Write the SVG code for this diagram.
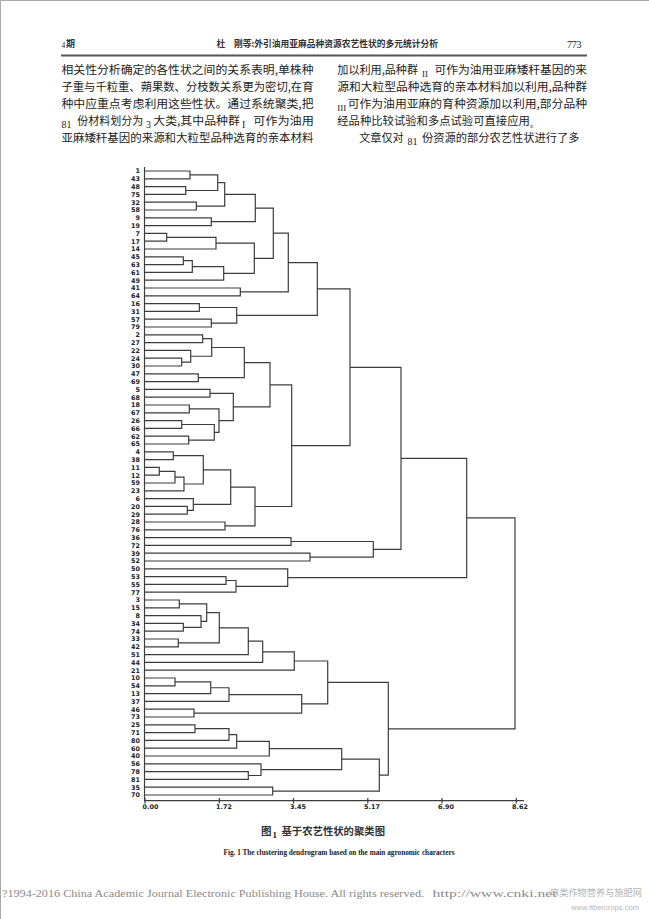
<svg xmlns="http://www.w3.org/2000/svg" width="649" height="919" viewBox="0 0 649 919">
<style>
.cn{font-family:"Noto Sans CJK SC","Noto Sans",sans-serif;font-size:11.4px;fill:#222}
.num{font-family:"Liberation Serif",serif;font-size:11px;fill:#222}
.sub{font-family:"Liberation Serif",serif;font-size:10px;fill:#222}
.hd{font-family:"Noto Sans CJK SC",sans-serif;font-size:9px;font-weight:bold;fill:#333}
.lb{font-family:"DejaVu Sans",sans-serif;font-size:6.4px;font-weight:bold;fill:#222;text-anchor:end}
.ax{font-family:"DejaVu Sans",sans-serif;font-size:6.4px;font-weight:bold;fill:#222;text-anchor:middle}
.ln{fill:none;stroke:#3c3c3c;stroke-width:1.2}
.ft{font-family:"Liberation Serif",serif;font-size:11px;fill:#8a8a8a}
</style>
<rect width="649" height="919" fill="#fff"/>
<path d="M0.5 919V0.5H649" fill="none" stroke="#aaa" stroke-width="1"/>
<g id="header">
<text x="61.5" y="48" class="num" style="font-size:7.5px">4</text>
<text x="66" y="46.5" class="hd">期</text>
<text x="216.5" y="46.5" class="hd" textLength="221.5" lengthAdjust="spacingAndGlyphs">杜　刚等:外引油用亚麻品种资源农艺性状的多元统计分析</text>
<text x="567" y="47.5" class="num" style="font-size:10px" textLength="14.5">773</text>
<line x1="61" y1="55.5" x2="587" y2="55.5" stroke="#555" stroke-width="2"/>
</g>
<g id="body-left">
<text x="61.5" y="74" class="cn" textLength="252" lengthAdjust="spacingAndGlyphs">相关性分析确定的各性状之间的关系表明,单株种</text>
<text x="61.5" y="91" class="cn" textLength="252" lengthAdjust="spacingAndGlyphs">子重与千粒重、蒴果数、分枝数关系更为密切,在育</text>
<text x="61.5" y="108" class="cn" textLength="252" lengthAdjust="spacingAndGlyphs">种中应重点考虑利用这些性状。通过系统聚类,把</text>
<text x="61.5" y="127.5" class="sub">81</text>
<text x="77.3" y="125" class="cn" textLength="66" lengthAdjust="spacingAndGlyphs">份材料划分为</text>
<text x="146" y="127.5" class="sub">3</text>
<text x="153.3" y="125" class="cn" textLength="86.5" lengthAdjust="spacingAndGlyphs">大类,其中品种群</text>
<text x="242" y="127.5" class="sub">I</text>
<text x="253.3" y="125" class="cn" textLength="60.5" lengthAdjust="spacingAndGlyphs">可作为油用</text>
<text x="61.5" y="141.5" class="cn" textLength="252" lengthAdjust="spacingAndGlyphs">亚麻矮秆基因的来源和大粒型品种选育的亲本材料</text>
</g>
<g id="body-right">
<text x="337.3" y="74" class="cn" textLength="80.7" lengthAdjust="spacingAndGlyphs">加以利用,品种群</text>
<text x="422" y="77" class="num" style="font-size:9px">II</text>
<text x="434.6" y="74" class="cn" textLength="152.4" lengthAdjust="spacingAndGlyphs">可作为油用亚麻矮秆基因的来</text>
<text x="337.3" y="91" class="cn" textLength="249.7" lengthAdjust="spacingAndGlyphs">源和大粒型品种选育的亲本材料加以利用,品种群</text>
<text x="337.3" y="111" class="num" style="font-size:9px">III</text>
<text x="347.7" y="108" class="cn" textLength="239.3" lengthAdjust="spacingAndGlyphs">可作为油用亚麻的育种资源加以利用,部分品种</text>
<text x="337.3" y="125" class="cn" textLength="192.5" lengthAdjust="spacingAndGlyphs">经品种比较试验和多点试验可直接应用</text>
<text x="530" y="127" class="cn" style="font-size:8px">。</text>
<text x="359.3" y="141.5" class="cn" textLength="44.3" lengthAdjust="spacingAndGlyphs">文章仅对</text>
<text x="407.5" y="144.5" class="sub">81</text>
<text x="422" y="141.5" class="cn" textLength="157.5" lengthAdjust="spacingAndGlyphs">份资源的部分农艺性状进行了多</text>
</g>
<g id="connectors" class="ln">
<path d="M144.5 167V800.7M144 800.7H524M145 798V803.5M219.3 798V803.5M293.5 798V803.5M367.8 798V803.5M442 798V803.5M516.3 798V803.5"/>
<path d="M145 171H190V178.8H145M145 186.6H185.7V194.4H145M190 174.9H217.7V190.5H185.7M145 202.2H196.3V210H145M217.7 182.7H224.7V206.1H196.3M145 217.8H211.3V225.6H145M224.7 194.4H255.3V221.7H211.3M145 233.4H166.7V241.2H145M166.7 237.3H216V249H145M145 256.8H183.3V264.6H145M183.3 260.7H192.3V272.4H145M192.3 266.55H223.7V280.2H145M216 243.15H254.3V273.4H223.7M255.3 208.05H273.3V258.3H254.3M145 288H240.3V295.8H145M273.3 233.2H288.3V291.9H240.3M145 303.6H199.3V311.4H145M145 319.2H211.3V327H145M199.3 307.5H236.7V323.1H211.3M288.3 262.55H317.3V315.3H236.7"/>
<path d="M145 334.8H202.7V342.6H145M145 358.2H181.7V366H145M145 350.4H190.7V362.1H181.7M202.7 338.7H211.7V356.25H190.7M145 373.8H198.3V381.6H145M211.7 347.5H244.3V377.7H198.3M145 389.4H210V397.2H145M145 405H189.3V412.8H145M145 420.6H181.7V428.4H145M145 436.2H188.7V444H145M181.7 424.5H214.3V440.1H188.7M189.3 408.9H219V432.3H214.3M210 393.3H233.3V420.6H219M244.3 362.6H270V406.95H233.3M145 451.8H173.3V459.6H145M145 467.4H159.3V475.2H145M159.3 471.3H175V483H145M175 477.15H184V490.8H145M173.3 455.7H203.3V484H184M145 506.4H187.3V514.2H145M145 498.6H193.3V510.3H187.3M203.3 469.85H230.7V504.45H193.3M145 522H225V529.8H145M230.7 487.15H255V525.9H225M270 384.8H291.7V506.5H255"/>
<path d="M317.3 288.9H350V445.65H291.7M145 537.6H291V545.4H145M145 553.2H310V561H145M291 541.5H373.3V557.1H310M350 367.3H401V549.3H373.3M145 576.6H226V584.4H145M226 580.5H236V592.2H145M145 568.8H287.7V586.35H236M401 458.3H466.7V577.6H287.7"/>
<path d="M145 600H179.3V607.8H145M145 623.4H183.3V631.2H145M145 615.6H201V627.3H183.3M179.3 603.9H206.7V621.45H201M145 639H178.3V646.8H145M206.7 612.7H219.3V642.9H178.3M219.3 627.8H248.3V654.6H145M248.3 641.2H262.7V662.4H145M262.7 651.8H294.3V670.2H145M145 678H175V685.8H145M175 681.9H210.7V693.6H145M210.7 687.75H229V701.4H145M145 709.2H194V717H145M229 694.6H301.7V713.1H194M294.3 661H327.7V703.85H301.7M145 724.8H195V732.6H145M195 728.7H229V740.4H145M229 734.55H236.7V748.2H145M236.7 741.4H269.3V756H145M145 771.6H248.3V779.4H145M145 763.8H261V775.5H248.3M269.3 748.7H341.7V769.65H261M145 787.2H272.7V795H145M341.7 759.2H379.3V791.1H272.7M327.7 682.4H388.3V775.15H379.3M466.7 517.95H515V728.8H388.3"/>
</g>
<g id="leaves" class="lb">
<g id="leaf-1"><text x="140" y="173.3" class="lb">1</text></g>
<g id="leaf-43"><text x="140" y="181.1" class="lb">43</text></g>
<g id="leaf-48"><text x="140" y="188.9" class="lb">48</text></g>
<g id="leaf-75"><text x="140" y="196.7" class="lb">75</text></g>
<g id="leaf-32"><text x="140" y="204.5" class="lb">32</text></g>
<g id="leaf-58"><text x="140" y="212.3" class="lb">58</text></g>
<g id="leaf-9"><text x="140" y="220.1" class="lb">9</text></g>
<g id="leaf-19"><text x="140" y="227.9" class="lb">19</text></g>
<g id="leaf-7"><text x="140" y="235.7" class="lb">7</text></g>
<g id="leaf-17"><text x="140" y="243.5" class="lb">17</text></g>
<g id="leaf-14"><text x="140" y="251.3" class="lb">14</text></g>
<g id="leaf-45"><text x="140" y="259.1" class="lb">45</text></g>
<g id="leaf-63"><text x="140" y="266.9" class="lb">63</text></g>
<g id="leaf-61"><text x="140" y="274.7" class="lb">61</text></g>
<g id="leaf-49"><text x="140" y="282.5" class="lb">49</text></g>
<g id="leaf-41"><text x="140" y="290.3" class="lb">41</text></g>
<g id="leaf-64"><text x="140" y="298.1" class="lb">64</text></g>
<g id="leaf-16"><text x="140" y="305.9" class="lb">16</text></g>
<g id="leaf-31"><text x="140" y="313.7" class="lb">31</text></g>
<g id="leaf-57"><text x="140" y="321.5" class="lb">57</text></g>
<g id="leaf-79"><text x="140" y="329.3" class="lb">79</text></g>
<g id="leaf-2"><text x="140" y="337.1" class="lb">2</text></g>
<g id="leaf-27"><text x="140" y="344.9" class="lb">27</text></g>
<g id="leaf-22"><text x="140" y="352.7" class="lb">22</text></g>
<g id="leaf-24"><text x="140" y="360.5" class="lb">24</text></g>
<g id="leaf-30"><text x="140" y="368.3" class="lb">30</text></g>
<g id="leaf-47"><text x="140" y="376.1" class="lb">47</text></g>
<g id="leaf-69"><text x="140" y="383.9" class="lb">69</text></g>
<g id="leaf-5"><text x="140" y="391.7" class="lb">5</text></g>
<g id="leaf-68"><text x="140" y="399.5" class="lb">68</text></g>
<g id="leaf-18"><text x="140" y="407.3" class="lb">18</text></g>
<g id="leaf-67"><text x="140" y="415.1" class="lb">67</text></g>
<g id="leaf-26"><text x="140" y="422.9" class="lb">26</text></g>
<g id="leaf-66"><text x="140" y="430.7" class="lb">66</text></g>
<g id="leaf-62"><text x="140" y="438.5" class="lb">62</text></g>
<g id="leaf-65"><text x="140" y="446.3" class="lb">65</text></g>
<g id="leaf-4"><text x="140" y="454.1" class="lb">4</text></g>
<g id="leaf-38"><text x="140" y="461.9" class="lb">38</text></g>
<g id="leaf-11"><text x="140" y="469.7" class="lb">11</text></g>
<g id="leaf-12"><text x="140" y="477.5" class="lb">12</text></g>
<g id="leaf-59"><text x="140" y="485.3" class="lb">59</text></g>
<g id="leaf-23"><text x="140" y="493.1" class="lb">23</text></g>
<g id="leaf-6"><text x="140" y="500.9" class="lb">6</text></g>
<g id="leaf-20"><text x="140" y="508.7" class="lb">20</text></g>
<g id="leaf-29"><text x="140" y="516.5" class="lb">29</text></g>
<g id="leaf-28"><text x="140" y="524.3" class="lb">28</text></g>
<g id="leaf-76"><text x="140" y="532.1" class="lb">76</text></g>
<g id="leaf-36"><text x="140" y="539.9" class="lb">36</text></g>
<g id="leaf-72"><text x="140" y="547.7" class="lb">72</text></g>
<g id="leaf-39"><text x="140" y="555.5" class="lb">39</text></g>
<g id="leaf-52"><text x="140" y="563.3" class="lb">52</text></g>
<g id="leaf-50"><text x="140" y="571.1" class="lb">50</text></g>
<g id="leaf-53"><text x="140" y="578.9" class="lb">53</text></g>
<g id="leaf-55"><text x="140" y="586.7" class="lb">55</text></g>
<g id="leaf-77"><text x="140" y="594.5" class="lb">77</text></g>
<g id="leaf-3"><text x="140" y="602.3" class="lb">3</text></g>
<g id="leaf-15"><text x="140" y="610.1" class="lb">15</text></g>
<g id="leaf-8"><text x="140" y="617.9" class="lb">8</text></g>
<g id="leaf-34"><text x="140" y="625.7" class="lb">34</text></g>
<g id="leaf-74"><text x="140" y="633.5" class="lb">74</text></g>
<g id="leaf-33"><text x="140" y="641.3" class="lb">33</text></g>
<g id="leaf-42"><text x="140" y="649.1" class="lb">42</text></g>
<g id="leaf-51"><text x="140" y="656.9" class="lb">51</text></g>
<g id="leaf-44"><text x="140" y="664.7" class="lb">44</text></g>
<g id="leaf-21"><text x="140" y="672.5" class="lb">21</text></g>
<g id="leaf-10"><text x="140" y="680.3" class="lb">10</text></g>
<g id="leaf-54"><text x="140" y="688.1" class="lb">54</text></g>
<g id="leaf-13"><text x="140" y="695.9" class="lb">13</text></g>
<g id="leaf-37"><text x="140" y="703.7" class="lb">37</text></g>
<g id="leaf-46"><text x="140" y="711.5" class="lb">46</text></g>
<g id="leaf-73"><text x="140" y="719.3" class="lb">73</text></g>
<g id="leaf-25"><text x="140" y="727.1" class="lb">25</text></g>
<g id="leaf-71"><text x="140" y="734.9" class="lb">71</text></g>
<g id="leaf-80"><text x="140" y="742.7" class="lb">80</text></g>
<g id="leaf-60"><text x="140" y="750.5" class="lb">60</text></g>
<g id="leaf-40"><text x="140" y="758.3" class="lb">40</text></g>
<g id="leaf-56"><text x="140" y="766.1" class="lb">56</text></g>
<g id="leaf-78"><text x="140" y="773.9" class="lb">78</text></g>
<g id="leaf-81"><text x="140" y="781.7" class="lb">81</text></g>
<g id="leaf-35"><text x="140" y="789.5" class="lb">35</text></g>
<g id="leaf-70"><text x="140" y="797.3" class="lb">70</text></g>
</g>
<g id="axis-labels">
<text x="150.5" y="808.5" class="ax">0.00</text>
<text x="224" y="808.5" class="ax">1.72</text>
<text x="298" y="808.5" class="ax">3.45</text>
<text x="372" y="808.5" class="ax">5.17</text>
<text x="446" y="808.5" class="ax">6.90</text>
<text x="520" y="808.5" class="ax">8.62</text>
</g>
<g id="caption">
<text x="261" y="835" class="hd" style="font-size:10.5px">图</text>
<text x="272.5" y="838" class="num" style="font-size:9px;font-weight:bold">1</text>
<text x="281.5" y="835" class="hd" style="font-size:10px" textLength="103.5" lengthAdjust="spacingAndGlyphs">基于农艺性状的聚类图</text>
<text x="223.5" y="854.5" class="num" style="font-size:7.2px;font-weight:bold" textLength="231" lengthAdjust="spacingAndGlyphs">Fig. 1   The clustering dendrogram based on the main agronomic characters</text>
</g>
<g id="footer">
<text x="2" y="897" class="ft" textLength="422" lengthAdjust="spacingAndGlyphs">?1994-2016 China Academic Journal Electronic Publishing House. All rights reserved.</text>
<text x="432.5" y="897" class="ft" textLength="124" lengthAdjust="spacingAndGlyphs">http://www.cnki.net</text>
<text x="550" y="896" style="font-family:'Noto Sans CJK SC',sans-serif;font-size:9.2px;fill:#b5b5b5" textLength="92" lengthAdjust="spacingAndGlyphs">麻类作物营养与施肥网</text>
<text x="571" y="910" style="font-family:'Liberation Sans',sans-serif;font-size:7.8px;fill:#b5b5b5" textLength="68" lengthAdjust="spacingAndGlyphs">www.fibercrops.com</text>
</g>
</svg>
